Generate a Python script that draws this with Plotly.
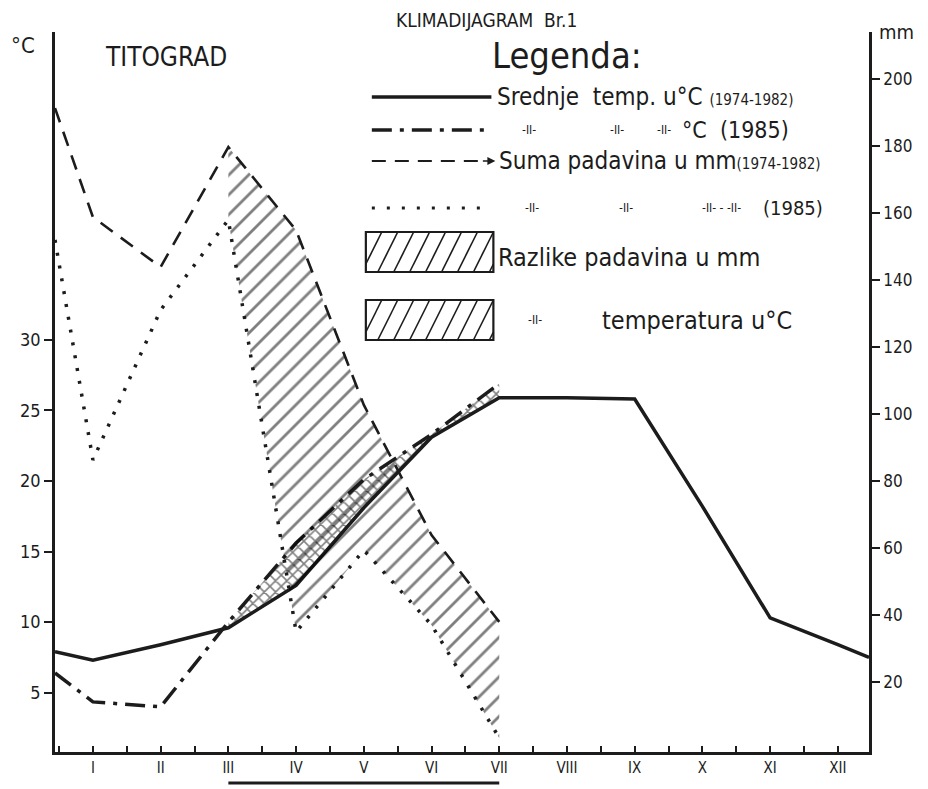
import plotly.graph_objects as go

# ---------------- data ----------------
months = ["I", "II", "III", "IV", "V", "VI", "VII", "VIII", "IX", "X", "XI", "XII"]
month_pos = [1, 2, 3, 4, 5, 6, 7, 8, 9, 10, 11, 12]
edge_left = 0.44     # where the hand-drawn curves start at the left axis
edge_right = 12.46   # where they end at the right axis

# mean temperature 1974-1982 (°C): left edge, I..XII, right edge
temp_mean = [7.9, 7.3, 8.4, 9.6, 12.6, 18.1, 23.1, 25.9, 25.9, 25.8, 18.2, 10.3, 8.4, 7.5]
# temperature 1985 (°C): left edge, I..VII
temp_1985 = [6.4, 4.35, 4.0, 10.0, 15.6, 20.1, 23.3, 26.9]
# precipitation sum 1974-1982 (mm): left edge, I..VII
prec_mean = [191.2, 158.7, 143.8, 179.6, 154.8, 102.7, 63.9, 38.0]
# precipitation 1985 (mm): left edge, I..VII
prec_1985 = [151.9, 86.3, 131.0, 157.9, 35.0, 59.4, 37.1, 3.4]

temp_ticks = [5, 10, 15, 20, 25, 30]
prec_ticks = [20, 40, 60, 80, 100, 120, 140, 160, 180, 200]

x_full = [edge_left] + month_pos + [edge_right]
x_half = [edge_left] + month_pos[:7]
diff_x = month_pos[2:7]          # III..VII
diff_slice = slice(3, 8)          # indices in the half-year arrays

INK = "#1c1c1c"
FONT = "Liberation Sans Narrow, DejaVu Sans Condensed, Liberation Sans, sans-serif"

# ---------------- geometry (page has an 8px body margin) ----------------
OFF = 8
W, H = 928 - OFF, 789 - OFF
PL, PR, PT, PB = 52, 869, 32, 752          # plot area in window pixels
L, T = PL - OFF, PT - OFF
R, B = W - (PR - OFF), H - (PB - OFF)
PW, PH = PR - PL, PB - PT


def px(x):
    return (x - PL) / PW


def py(y):
    return (PB - y) / PH


fig = go.Figure()

# hatched precipitation difference (III..VII)
fig.add_trace(go.Scatter(x=diff_x, y=prec_1985[diff_slice], yaxis="y2", mode="lines",
                         line=dict(width=0), showlegend=False, hoverinfo="skip"))
fig.add_trace(go.Scatter(x=diff_x, y=prec_mean[diff_slice], yaxis="y2", mode="lines",
                         line=dict(width=0), fill="tonexty", fillcolor="rgba(0,0,0,0)",
                         fillpattern=dict(shape="/", size=14, solidity=0.2, fgcolor="#000",
                                          bgcolor="rgba(255,255,255,0)"),
                         showlegend=False, hoverinfo="skip"))

# cross-hatched temperature difference (III..VII)
fig.add_trace(go.Scatter(x=diff_x, y=temp_mean[diff_slice], mode="lines",
                         line=dict(width=0), showlegend=False, hoverinfo="skip"))
fig.add_trace(go.Scatter(x=diff_x, y=temp_1985[diff_slice], mode="lines",
                         line=dict(width=0), fill="tonexty", fillcolor="rgba(0,0,0,0)",
                         fillpattern=dict(shape="x", size=8, solidity=0.35, fgcolor="#000",
                                          bgcolor="rgba(255,255,255,0)"),
                         showlegend=False, hoverinfo="skip"))

# lines
fig.add_trace(go.Scatter(x=x_full, y=temp_mean, mode="lines",
                         line=dict(color=INK, width=3.5), name="Srednje temp. u°C (1974-1982)"))
fig.add_trace(go.Scatter(x=x_half, y=temp_1985, mode="lines",
                         line=dict(color=INK, width=3.5, dash="20px,8px,4px,8px"),
                         name="temp. u°C (1985)"))
fig.add_trace(go.Scatter(x=x_half, y=prec_mean, yaxis="y2", mode="lines",
                         line=dict(color=INK, width=2.6, dash="15px,10px"),
                         name="Suma padavina u mm (1974-1982)"))
fig.add_trace(go.Scatter(x=x_half, y=prec_1985, yaxis="y2", mode="lines",
                         line=dict(color=INK, width=3.5, dash="3px,10px"),
                         name="padavina (1985)"))

shapes = []
annotations = []


def text(s, x, y, size, anchor="left", yanchor="middle"):
    annotations.append(dict(text=s, x=px(x), y=py(y), xref="paper", yref="paper",
                            xanchor=anchor, yanchor=yanchor, showarrow=False, borderpad=0,
                            font=dict(family=FONT, size=size, color=INK)))


def pline(x0, y0, x1, y1, width=2.5, dash="solid"):
    shapes.append(dict(type="line", xref="paper", yref="paper",
                       x0=px(x0), y0=py(y0), x1=px(x1), y1=py(y1),
                       line=dict(color=INK, width=width, dash=dash)))


def hatch_box(x0, y0, x1, y1, step=16, slant=20):
    shapes.append(dict(type="rect", xref="paper", yref="paper",
                       x0=px(x0), y0=py(y0), x1=px(x1), y1=py(y1),
                       line=dict(color=INK, width=2.2)))
    c = x0 - slant
    while c < x1:
        tmin = max(0.0, (x0 - c) / slant)
        tmax = min(1.0, (x1 - c) / slant)
        if tmin < tmax:
            xa, ya = c + slant * tmin, y1 - (y1 - y0) * tmin
            xb, yb = c + slant * tmax, y1 - (y1 - y0) * tmax
            pline(xa, ya, xb, yb, width=1.6)
        c += step


# title (partly cut off in the scan, kept fully visible here)
text("KLIMADIJAGRAM  Br.1", 485, 8, 19, anchor="center", yanchor="top")
text("TITOGRAD", 163, 57, 26, anchor="center")
text("°C", 20, 45, 22, anchor="center")
text("mm", 897, 32, 20, anchor="center")
text("Legenda:", 490, 55, 36)

# legend rows
pline(370, 97, 490, 97, width=3.5)
text("Srednje  temp. u°C <span style='font-size:15px'>(1974-1982)</span>", 495, 97, 24)

pline(370, 130, 490, 130, width=3.5, dash="20px,8px,4px,8px")
text("-II-", 520, 130, 12)
text("-II-", 608, 130, 12)
text("-II-", 655, 130, 12)
text("°C  (1985)", 680, 130, 23)

pline(370, 161, 484, 161, width=2.2, dash="14px,9px")
annotations.append(dict(x=px(494), y=py(161), xref="paper", yref="paper", ax=-14, ay=0,
                        showarrow=True, arrowhead=2, arrowsize=1, arrowwidth=1.6,
                        arrowcolor=INK, text=""))
text("Suma padavina u mm<span style='font-size:15px'>(1974-1982)</span>", 497, 161, 24)

pline(370, 208, 490, 208, width=3, dash="3px,12px")
text("-II-", 523, 208, 12)
text("-II-", 617, 208, 12)
text("-II- - -II-", 700, 208, 12)
text("(1985)", 762, 208, 20)

hatch_box(364, 232, 492, 272)
text("Razlike padavina u mm", 496, 257, 25)

hatch_box(364, 300, 492, 340)
text("-II-", 526, 320, 12)
text("temperatura u°C", 600, 320, 25)

# bar under the months III..VII
shapes.append(dict(type="line", xref="x", yref="paper", x0=diff_x[0], x1=diff_x[-1],
                   y0=py(783), y1=py(783), line=dict(color=INK, width=3)))

fig.update_layout(
    width=W, height=H, autosize=False,
    margin=dict(l=L, r=R, t=T, b=B),
    paper_bgcolor="white", plot_bgcolor="white",
    showlegend=False,
    shapes=shapes, annotations=annotations,
    font=dict(family=FONT, color=INK),
    xaxis=dict(range=[edge_left, edge_right], tickmode="array", tickvals=month_pos,
               ticktext=months, ticks="inside", ticklen=6, tickwidth=2, tickcolor=INK,
               minor=dict(tickmode="array", tickvals=[m + 0.5 for m in [0] + month_pos],
                          ticks="inside", ticklen=6, tickwidth=2, tickcolor=INK),
               showline=True, linewidth=2.6, linecolor=INK, showgrid=False, zeroline=False,
               tickfont=dict(size=15, family=FONT, color=INK)),
    yaxis=dict(range=[0.8, 51.8], tickmode="array", tickvals=temp_ticks,
               ticks="outside", ticklen=8, tickwidth=2, tickcolor=INK,
               showline=True, linewidth=2.6, linecolor=INK, showgrid=False, zeroline=False,
               tickfont=dict(size=18, family=FONT, color=INK)),
    yaxis2=dict(range=[-0.8, 213.9], overlaying="y", side="right", tickmode="array",
                tickvals=prec_ticks, ticks="outside", ticklen=8, tickwidth=2, tickcolor=INK,
                showline=True, linewidth=2.6, linecolor=INK, showgrid=False, zeroline=False,
                tickfont=dict(size=17, family=FONT, color=INK)),
)

fig.write_html("out.html")
